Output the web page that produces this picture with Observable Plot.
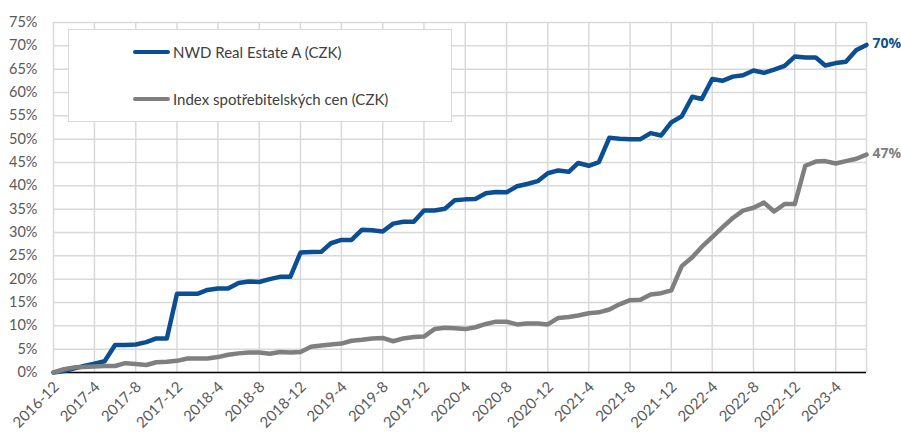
<!DOCTYPE html>
<html>
<head>
<meta charset="utf-8">
<script src="https://cdn.jsdelivr.net/npm/d3@7"></script>
<script src="https://cdn.jsdelivr.net/npm/@observablehq/plot@0.6"></script>
<style>
  body { margin: 0; background: #fff; font-family: Lato, "Open Sans", sans-serif; }
  #wrap { position: relative; width: 901px; height: 438px; }
  .legend { position: absolute; left: 68px; top: 29px; width: 384px; height: 93px; background: #fff; border: 1px solid #d9d9d9; box-sizing: border-box; }
  .item { position: absolute; left: 64px; display: flex; align-items: center; font-size: 15px; color: #404040; white-space: nowrap; }
  .sw { width: 37px; height: 4px; border-radius: 2px; margin-right: 3px; }
</style>
</head>
<body>
<div id="wrap"></div>
<script>
// Series names
const seriesNames = ["NWD Real Estate A (CZK)", "Index spotřebitelských cen (CZK)"];
const seriesColors = ["#0b4f92", "#7f7f7f"];

// First and last month of the data (monthly, 2016-12 .. 2023-7)
const startMonth = "2016-12";
const endMonth = "2023-7";

// Cumulative change, %
const nwd = [
  0, 0.3, 0.9, 1.4, 1.9, 2.4, 5.9, 5.9, 6.0, 6.5,
  7.3, 7.3, 16.9, 16.9, 16.9, 17.7, 18.0, 18.0, 19.2, 19.5,
  19.4, 20.0, 20.5, 20.5, 25.7, 25.8, 25.9, 27.7, 28.4, 28.4,
  30.6, 30.5, 30.2, 31.9, 32.3, 32.3, 34.7, 34.7, 35.1, 36.9,
  37.1, 37.2, 38.4, 38.7, 38.6, 39.9, 40.4, 41.0, 42.7, 43.3,
  43.0, 44.9, 44.3, 45.1, 50.3, 50.1, 50.0, 50.0, 51.3, 50.8,
  53.6, 54.9, 59.1, 58.6, 62.9, 62.5, 63.4, 63.7, 64.7, 64.2,
  64.9, 65.7, 67.7, 67.5, 67.5, 65.8, 66.3, 66.6, 69.1, 70.2
];
const cpi = [
  0, 0.7, 1.1, 1.2, 1.3, 1.4, 1.4, 2.0, 1.8, 1.6,
  2.2, 2.3, 2.5, 3.0, 3.0, 3.0, 3.3, 3.8, 4.1, 4.3,
  4.3, 4.0, 4.4, 4.3, 4.4, 5.5, 5.8, 6.0, 6.2, 6.8,
  7.0, 7.3, 7.4, 6.7, 7.3, 7.6, 7.7, 9.3, 9.6, 9.5,
  9.3, 9.7, 10.4, 10.9, 10.9, 10.3, 10.5, 10.5, 10.3, 11.7,
  11.9, 12.2, 12.7, 12.9, 13.5, 14.6, 15.5, 15.6, 16.7, 17.0,
  17.6, 22.8, 24.7, 26.9, 29.0, 31.1, 33.1, 34.7, 35.3, 36.4,
  34.5, 36.1, 36.1, 44.3, 45.2, 45.3, 44.8, 45.3, 45.8, 46.7
];
const endLabels = ["70%", "47%"];

// Axis tick labels
const xTickLabels = ["2016-12","2017-4","2017-8","2017-12","2018-4","2018-8","2018-12","2019-4","2019-8","2019-12",
  "2020-4","2020-8","2020-12","2021-4","2021-8","2021-12","2022-4","2022-8","2022-12","2023-4"];
const yTicks = [0,5,10,15,20,25,30,35,40,45,50,55,60,65,70,75];

const ym = s => { const [y, m] = s.split("-").map(Number); return new Date(Date.UTC(y, m - 1, 1)); };
const fmt = d => `${d.getUTCFullYear()}-${d.getUTCMonth() + 1}`;
const months = d3.utcMonth.range(ym(startMonth), d3.utcMonth.offset(ym(endMonth), 1));
const xTicks = xTickLabels.map(ym);

const rows = [];
[nwd, cpi].forEach((vals, k) => vals.forEach((v, i) => rows.push({date: months[i], value: v, series: seriesNames[k]})));
const last = [nwd, cpi].map((vals, k) => ({date: months[vals.length - 1], value: vals[vals.length - 1], series: seriesNames[k], label: endLabels[k]}));

const grid = "#d9d9d9";
const chart = Plot.plot({
  width: 901, height: 438,
  marginLeft: 53, marginRight: 35, marginTop: 22, marginBottom: 66,
  style: {fontFamily: "Lato, 'Open Sans', sans-serif", fontSize: "14.5px", color: "#595959", background: "white"},
  x: {type: "utc", domain: [months[0], months[months.length - 1]]},
  y: {domain: [0, 75]},
  color: {domain: seriesNames, range: seriesColors},
  marks: [
    Plot.gridY(yTicks, {stroke: grid, strokeOpacity: 1, strokeWidth: 1.5}),
    Plot.gridX(xTicks, {stroke: grid, strokeOpacity: 1, strokeWidth: 1.5}),
    Plot.ruleX([months[months.length - 1]], {stroke: grid, strokeWidth: 1.5}),
    Plot.axisY(yTicks, {tickSize: 0, tickPadding: 16, tickFormat: d => d + "%", label: null, fill: "#595959"}),
    Plot.axisX(xTicks, {tickSize: 0, tickPadding: 12, dx: 3, tickRotate: -45, tickFormat: fmt, label: null, fill: "#595959", fontSize: 15}),
    Plot.ruleY([0], {stroke: "#000", strokeWidth: 1.5}),
    Plot.line(rows, {x: "date", y: "value", z: "series", stroke: "series", strokeWidth: 4.5, curve: "linear"}),
    Plot.text(last, {x: "date", y: "value", text: "label", fill: "series", dx: 6, dy: -1, textAnchor: "start", fontWeight: "bold", fontSize: 14, fontFamily: "'Open Sans', sans-serif"})
  ]
});
const wrap = document.getElementById("wrap");
wrap.appendChild(chart);

const legend = document.createElement("div");
legend.className = "legend";
seriesNames.forEach((name, k) => {
  const it = document.createElement("div");
  it.className = "item";
  it.style.top = (k === 0 ? 13 : 60) + "px";
  const sw = document.createElement("span");
  sw.className = "sw";
  sw.style.background = seriesColors[k];
  const t = document.createElement("span");
  t.textContent = name;
  it.appendChild(sw); it.appendChild(t);
  legend.appendChild(it);
});
wrap.appendChild(legend);
</script>
</body>
</html>
